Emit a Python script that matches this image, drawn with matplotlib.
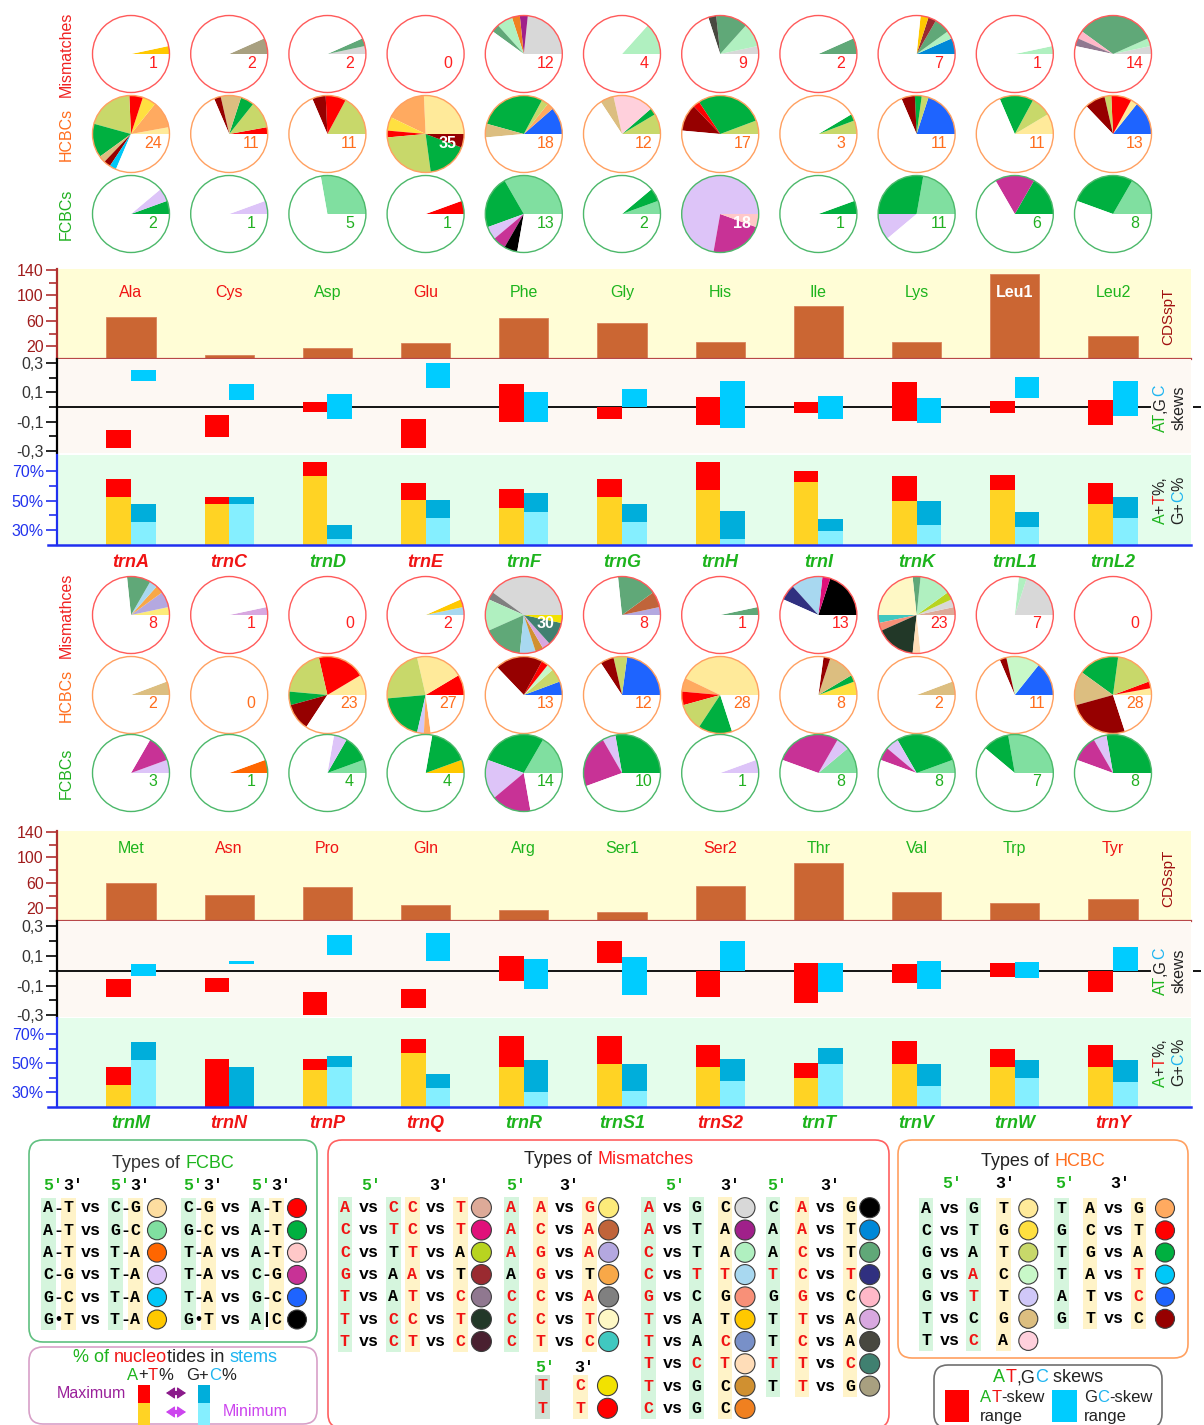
import matplotlib
matplotlib.use('Agg')
import matplotlib.pyplot as plt
import numpy as np
from matplotlib.patches import Circle, Rectangle, FancyBboxPatch

plt.rcParams['font.family'] = ['Liberation Sans', 'DejaVu Sans']

W, H = 1204, 1425
RED = '#F01414'
GREEN = '#1DB41D'
CYAN = '#1EB4F0'
ORANGE = '#FF6E1E'
DARK = '#222222'
MONO = ['Liberation Mono', 'DejaVu Sans Mono']
COL = {'r': RED, 'g': GREEN}

# ---------------- data: upper block ----------------
genes_top = ['trnA', 'trnC', 'trnD', 'trnE', 'trnF', 'trnG', 'trnH', 'trnI', 'trnK', 'trnL1', 'trnL2']
strand_top = ['r', 'r', 'g', 'r', 'g', 'g', 'g', 'g', 'g', 'g', 'g']
aa_top = ['Ala', 'Cys', 'Asp', 'Glu', 'Phe', 'Gly', 'His', 'Ile', 'Lys', 'Leu1', 'Leu2']
cds_top = [66, 6, 18, 25, 65, 57, 27, 84, 27, 134, 36]
at_skew_top = [(-0.277, -0.156), (-0.202, -0.054), (-0.034, 0.032), (-0.277, -0.080), (-0.102, 0.156),
               (-0.084, 0.0), (-0.122, 0.070), (-0.041, 0.036), (-0.093, 0.168), (-0.041, 0.041), (-0.122, 0.048)]
gc_skew_top = [(0.177, 0.252), (0.050, 0.156), (-0.082, 0.090), (0.127, 0.300), (-0.100, 0.100),
               (0.0, 0.125), (-0.145, 0.177), (-0.080, 0.077), (-0.111, 0.059), (0.059, 0.202), (-0.061, 0.177)]
at_pct_top = [(52.5, 64.5), (47.6, 52.5), (66.8, 76.5), (50.3, 62.2), (45.1, 57.8), (52.5, 64.5),
              (57.3, 76.5), (62.7, 70.4), (50.0, 66.8), (57.5, 67.7), (47.6, 62.0)]
gc_pct_top = [(35.6, 47.6), (47.6, 52.5), (24.0, 33.3), (38.1, 50.3), (42.6, 55.0), (35.6, 47.6),
              (23.9, 43.0), (29.7, 37.6), (33.3, 50.0), (32.4, 42.6), (38.1, 52.3)]

mism_top = [[('gold', 1)], [('khaki', 2)], [('silver', 1), ('seagreen', 1)], [],
            [('silver', 7), ('purple', 1), ('tangerine', 1), ('mint', 2), ('seagreen', 1)],
            [('mint', 4)], [('silver', 1), ('mint', 3), ('seagreen', 4), ('charcoal', 1)],
            [('seagreen', 2)], [('blue', 2), ('mint', 1), ('seagreen', 2), ('brown', 1), ('gold', 1)],
            [('mint', 1)], [('silver', 1), ('mint', 1), ('seagreen', 10), ('pink', 1), ('mauve', 1)]]
hcbc_top = [[('lightyellow', 1), ('orange', 4), ('yellow', 2), ('red', 2), ('olive', 7), ('green', 5),
             ('tan', 1), ('darkred', 1), ('cyan', 1)],
            [('red', 1), ('olive', 4), ('green', 2), ('tan', 3), ('darkred', 1)],
            [('olive', 6), ('red', 3), ('darkred', 2)],
            [('lightyellow', 9), ('orange', 6), ('yellow', 2), ('red', 1), ('olive', 9), ('green', 6), ('darkred', 2)],
            [('blue', 4), ('orange', 1), ('olive', 1), ('green', 10), ('tan', 2)],
            [('olive', 3), ('green', 1), ('pink', 6), ('tan', 2)],
            [('olive', 2), ('green', 10), ('red', 1), ('darkred', 4)],
            [('olive', 2), ('green', 1)],
            [('blue', 7), ('olive', 1), ('green', 1), ('darkred', 2)],
            [('lightyellow', 3), ('olive', 3), ('green', 5)],
            [('blue', 5), ('lightyellow', 1), ('red', 3), ('olive', 1), ('darkred', 3)]]
fcbc_top = [[('green', 1), ('lavender', 1)], [('lavender', 1)], [('lightgreen', 5)], [('red', 1)],
            [('lightgreen', 6), ('green', 4), ('lavender', 1), ('magenta', 1), ('black', 1)],
            [('lightgreen', 1), ('green', 1)], [('lavender', 13), ('magenta', 4), ('pink', 1)],
            [('green', 1)], [('lightgreen', 4), ('green', 5), ('lavender', 2)],
            [('green', 3), ('magenta', 3)], [('lightgreen', 3), ('green', 5)]]

# ---------------- data: lower block ----------------
genes_bot = ['trnM', 'trnN', 'trnP', 'trnQ', 'trnR', 'trnS1', 'trnS2', 'trnT', 'trnV', 'trnW', 'trnY']
strand_bot = ['g', 'r', 'r', 'r', 'g', 'g', 'r', 'g', 'g', 'g', 'r']
aa_bot = ['Met', 'Asn', 'Pro', 'Gln', 'Arg', 'Ser1', 'Ser2', 'Thr', 'Val', 'Trp', 'Tyr']
cds_bot = [59, 41, 54, 25, 17, 14, 55, 91, 45, 28, 34]
at_skew_bot = [(-0.176, -0.058), (-0.142, -0.047), (-0.300, -0.142), (-0.250, -0.124), (-0.070, 0.101),
               (0.050, 0.203), (-0.180, 0.0), (-0.220, 0.054), (-0.081, 0.043), (-0.045, 0.050), (-0.142, 0.0)]
gc_skew_bot = [(-0.038, 0.045), (0.047, 0.064), (0.104, 0.239), (0.066, 0.253), (-0.124, 0.079),
               (-0.164, 0.093), (0.0, 0.203), (-0.142, 0.050), (-0.124, 0.068), (-0.049, 0.061), (0.0, 0.160)]
at_pct_bot = [(35.3, 47.4), (20.0, 52.6), (45.1, 52.6), (57.0, 66.8), (47.3, 69.0), (49.7, 68.8),
              (47.6, 62.4), (39.6, 49.9), (49.7, 65.4), (47.3, 59.7), (47.3, 62.4)]
gc_pct_bot = [(52.4, 64.5), (20.0, 47.4), (47.4, 55.1), (32.8, 42.6), (30.3, 52.2), (30.7, 49.7),
              (38.0, 52.6), (49.7, 60.1), (34.4, 49.7), (40.0, 52.4), (36.8, 52.4)]

mism_bot = [[('lightyellow', 1), ('lavender', 2), ('orange', 1), ('skyblue', 1), ('seagreen', 3)],
            [('orchid', 1)], [], [('skyblue', 1), ('gold', 1)],
            [('silver', 12), ('gray', 1), ('mint', 4), ('seagreen', 5), ('skyblue', 2), ('ochre', 1),
             ('orchid', 1), ('teal', 3), ('yellow', 1)],
            [('lavender', 1), ('sienna', 2), ('seagreen', 5)], [('seagreen', 1)],
            [('black', 6), ('deeppink', 1), ('skyblue', 4), ('navy', 2)],
            [('rosybrown', 1), ('silver', 1), ('yellowgreen', 1), ('mint', 4), ('seagreen', 1), ('cream', 7),
             ('turquoise', 1), ('salmon', 1), ('darkgreen', 5), ('peach', 1)],
            [('silver', 6), ('mint', 1)], []]
hcbc_bot = [[('tan', 2)], [],
            [('lightyellow', 3), ('red', 7), ('olive', 7), ('green', 2), ('darkred', 4)],
            [('red', 3), ('lightyellow', 7), ('olive', 8), ('green', 7), ('lavender', 1), ('orange', 1)],
            [('blue', 2), ('olive', 2), ('mint', 1), ('red', 1), ('darkred', 7)],
            [('blue', 8), ('olive', 2), ('darkred', 2)],
            [('lightyellow', 15), ('orange', 2), ('red', 2), ('olive', 4), ('green', 5)],
            [('yellow', 2), ('green', 1), ('tan', 4), ('darkred', 1)],
            [('tan', 2)], [('blue', 5), ('mint', 5), ('darkred', 1)],
            [('lightyellow', 1), ('red', 1), ('olive', 6), ('green', 6), ('tan', 5), ('darkred', 9)]]
fcbc_bot = [[('lavender', 1), ('magenta', 2)], [('orange', 1)], [('lightgreen', 1), ('green', 2), ('lavender', 1)],
            [('gold', 1), ('green', 3)], [('lightgreen', 3), ('green', 5), ('lavender', 3), ('magenta', 3)],
            [('green', 5), ('lavender', 1), ('magenta', 4)], [('lavender', 1)],
            [('lightgreen', 2), ('lavender', 1), ('magenta', 5)],
            [('lightgreen', 1), ('green', 5), ('lavender', 1), ('magenta', 1)],
            [('lightgreen', 5), ('green', 2)], [('green', 5), ('lavender', 1), ('magenta', 2)]]

FULL_MISM, FULL_HCBC, FULL_FCBC = 30, 35, 18

# ---------------- palettes / legend entries ----------------
pal_mism = {'rosybrown': '#DDAA98', 'deeppink': '#E0107A', 'yellowgreen': '#B8D420', 'brown': '#9A2A30',
            'mauve': '#907890', 'darkgreen': '#223828', 'maroon': '#4A2030', 'lightyellow': '#FDEB7A',
            'sienna': '#C0643A', 'lavender': '#B4A8E0', 'orange': '#F8A848', 'gray': '#808080',
            'cream': '#FEF8C5', 'turquoise': '#40C8C0', 'yellow': '#F2E200', 'red': '#FF0000',
            'silver': '#D8D8D8', 'purple': '#A0208A', 'mint': '#B0F0C0', 'skyblue': '#A8D8F0',
            'salmon': '#F89078', 'gold': '#FFC800', 'periwinkle': '#7890C8', 'peach': '#FFDDB8',
            'ochre': '#D09030', 'tangerine': '#F08020', 'black': '#000000', 'blue': '#0088D8',
            'seagreen': '#60A878', 'navy': '#303080', 'pink': '#FFB8C8', 'orchid': '#D8A8E0',
            'charcoal': '#484840', 'teal': '#408070', 'khaki': '#A8A080'}
pal_hcbc = {'lightyellow': '#FFEA9A', 'yellow': '#FFE040', 'olive': '#C8D86A', 'mint': '#C8F8C8',
            'lavender': '#D0C8F8', 'tan': '#DCBE80', 'pink': '#FFD0DC', 'orange': '#FFAA60',
            'red': '#FF0000', 'green': '#00B040', 'cyan': '#00C8F8', 'blue': '#1E64FF', 'darkred': '#960000'}
pal_fcbc = {'wheat': '#FDDDA0', 'lightgreen': '#80DFA0', 'orange': '#FF6600', 'lavender': '#DDC4F8',
            'cyan': '#00C8F8', 'gold': '#FFC800', 'red': '#FF0000', 'green': '#00B040', 'pink': '#FFC8C8',
            'magenta': '#C83296', 'blue': '#1E64FF', 'black': '#000000'}

# lowercase letter = drawn in red
fc_leg_a = [('A-T', 'C-G', 'wheat'), ('A-T', 'G-C', 'lightgreen'), ('A-T', 'T-A', 'orange'),
            ('C-G', 'T-A', 'lavender'), ('G-C', 'T-A', 'cyan'), ('G•T', 'T-A', 'gold')]
fc_leg_b = [('C-G', 'A-T', 'red'), ('G-C', 'A-T', 'green'), ('T-A', 'A-T', 'pink'),
            ('T-A', 'C-G', 'magenta'), ('T-A', 'G-C', 'blue'), ('G•T', 'A|C', 'black')]
mm_leg_1 = [('a', 'c', 'c', 't', 'rosybrown'), ('c', 't', 'c', 't', 'deeppink'), ('c', 'T', 't', 'A', 'yellowgreen'),
            ('g', 'A', 'a', 'T', 'brown'), ('t', 'A', 't', 'c', 'mauve'), ('t', 'c', 'c', 't', 'darkgreen'),
            ('t', 'c', 't', 'c', 'maroon')]
mm_leg_2 = [('a', 'a', 'g', 'lightyellow'), ('a', 'c', 'a', 'sienna'), ('a', 'g', 'a', 'lavender'),
            ('A', 'g', 'T', 'orange'), ('c', 'c', 'a', 'gray'), ('c', 'c', 't', 'cream'), ('c', 't', 'c', 'turquoise')]
mm_leg_2b = [('t', 'c', 'yellow'), ('t', 't', 'red')]
mm_leg_3 = [('a', 'G', 'C', 'silver'), ('a', 'T', 'A', 'purple'), ('c', 'T', 'A', 'mint'), ('c', 't', 't', 'skyblue'),
            ('g', 'C', 'G', 'salmon'), ('t', 'A', 'T', 'gold'), ('t', 'A', 'c', 'periwinkle'), ('t', 'c', 't', 'peach'),
            ('t', 'G', 'C', 'ochre'), ('c', 'G', 'C', 'tangerine')]
mm_leg_4 = [('C', 'a', 'G', 'black'), ('A', 'a', 'T', 'blue'), ('A', 'c', 'T', 'seagreen'), ('t', 'c', 't', 'navy'),
            ('G', 'g', 'C', 'pink'), ('T', 't', 'A', 'orchid'), ('T', 'c', 'A', 'charcoal'), ('t', 't', 'c', 'teal'),
            ('T', 't', 'G', 'khaki')]
hc_leg_1 = [('A', 'G', 'T', 'lightyellow'), ('C', 'T', 'G', 'yellow'), ('G', 'A', 'T', 'olive'),
            ('G', 'a', 'C', 'mint'), ('G', 't', 'T', 'lavender'), ('T', 'C', 'G', 'tan'), ('T', 'c', 'A', 'pink')]
hc_leg_2 = [('T', 'A', 'G', 'orange'), ('G', 'C', 'T', 'red'), ('T', 'G', 'A', 'green'),
            ('T', 'A', 't', 'cyan'), ('A', 'T', 'c', 'blue'), ('G', 'T', 'C', 'darkred')]

AT_MAX, AT_MIN, GC_MAX, GC_MIN = '#FF0000', '#FFD324', '#00AEDB', '#85EFFF'
SKEW_AT, SKEW_GC = '#FF0000', '#00CCFF'

# ---------------- figure ----------------
fig = plt.figure(figsize=(W / 100, H / 100), dpi=100)
ov = fig.add_axes([0, 0, 1, 1])
ov.set_xlim(0, W)
ov.set_ylim(H, 0)
ov.axis('off')
ov.set_zorder(10)
renderer = fig.canvas.get_renderer()

X0, DX = 131, 98.2
XLIM = ((57 - X0) / DX, (1191 - X0) / DX)


def px_axes(left, top, width, height):
    return fig.add_axes([left / W, 1 - (top + height) / H, width / W, height / H])


def tw(s, **kw):
    a = ov.text(0, 0, '|' + s + '|', **kw)
    b = ov.text(0, 0, '||', **kw)
    w = a.get_window_extent(renderer).width - b.get_window_extent(renderer).width
    a.remove()
    b.remove()
    return w


def rich(x, y, parts, size, rot=0, align='center', weight='normal'):
    kw = dict(fontsize=size, weight=weight)
    widths = [tw(s, **kw) for s, _ in parts]
    pos = -sum(widths) / 2 if align == 'center' else 0
    for (s, c), w in zip(parts, widths):
        if rot == 0:
            ov.text(x + pos, y, s, color=c, ha='left', va='center', **kw)
        else:
            ov.text(x, y - pos, s, color=c, rotation=90, rotation_mode='anchor', ha='left', va='center', **kw)
        pos += w


def style(ax, spine_col, label_col):
    for k in ('top', 'right', 'bottom'):
        ax.spines[k].set_visible(False)
    ax.spines['left'].set_color(spine_col)
    ax.spines['left'].set_linewidth(1.6)
    ax.tick_params(axis='y', which='both', direction='out', color=spine_col, width=1.2,
                   labelcolor=label_col, labelsize=11.5, pad=1.5)
    ax.tick_params(axis='y', which='major', length=8)
    ax.tick_params(axis='y', which='minor', length=6)
    ax.set_xticks([])
    ax.set_xlim(XLIM)


def block(geo, genes, strand, aa, cds, at_skew, gc_skew, at_pct, gc_pct):
    x = np.arange(len(genes))
    left, right = 57, 1191
    # CDSspT
    c0, c1 = geo['cds']
    a1 = px_axes(left, c0, right - left, c1 - c0)
    a1.set_facecolor('#FFFDD6')
    a1.bar(x, cds, width=0.5, color='#CB6633', edgecolor='#D9825A', linewidth=0.6)
    style(a1, '#B03030', '#A01C1C')
    a1.set_ylim(0, 141.5)
    a1.set_yticks([20, 60, 100, 140])
    a1.set_yticks([40, 80, 120], minor=True)
    a1.spines['bottom'].set_visible(True)
    a1.spines['bottom'].set_color('#B84848')
    a1.spines['bottom'].set_linewidth(1.6)
    for i, (name, s, v) in enumerate(zip(aa, strand, cds)):
        inside = v > geo['aa_y'] + 8
        a1.text(i, geo['aa_y'], name, ha='center', va='center', fontsize=11.5,
                color='white' if inside else COL[s], weight='bold' if inside else 'normal')
    # skews
    s0, s1 = geo['skew']
    a2 = px_axes(left, s0, right - left, s1 - s0)
    a2.set_facecolor('#FDF8F3')
    at_lo, at_hi = np.array(at_skew).T
    gc_lo, gc_hi = np.array(gc_skew).T
    a2.hlines(0, XLIM[0], 10.39, color='black', lw=1.3, zorder=1)
    a2.hlines(0, 10.81, 10.9, color='black', lw=1.3, zorder=1, clip_on=False)
    a2.bar(x - 0.125, at_hi - at_lo, bottom=at_lo, width=0.25, color=SKEW_AT, zorder=2)
    a2.bar(x + 0.125, gc_hi - gc_lo, bottom=gc_lo, width=0.25, color=SKEW_GC, zorder=2)
    style(a2, 'black', '#333333')
    a2.set_ylim(*geo['skew_lim'])
    a2.set_yticks([-0.3, -0.1, 0.1, 0.3])
    a2.set_yticklabels(['-0,3', '-0,1', '0,1', '0,3'])
    a2.set_yticks([-0.2, 0.0, 0.2], minor=True)
    # A+T%, G+C%
    p0, p1 = geo['pct']
    a3 = px_axes(left, p0, right - left, p1 - p0)
    a3.set_facecolor('#E4FDEB')
    at_mn, at_mx = np.array(at_pct).T
    gc_mn, gc_mx = np.array(gc_pct).T
    a3.bar(x - 0.125, at_mn, width=0.25, color=AT_MIN)
    a3.bar(x - 0.125, at_mx - at_mn, bottom=at_mn, width=0.25, color=AT_MAX)
    a3.bar(x + 0.125, gc_mn, width=0.25, color=GC_MIN)
    a3.bar(x + 0.125, gc_mx - gc_mn, bottom=gc_mn, width=0.25, color=GC_MAX)
    style(a3, '#2030F0', '#2233EE')
    a3.set_ylim(20, 81)
    a3.set_yticks([30, 50, 70])
    a3.set_yticklabels(['30%', '50%', '70%'])
    a3.set_yticks([40, 60], minor=True)
    a3.axhline(20, xmin=-0.008, xmax=1, color='#2030F0', lw=1.8, clip_on=False)
    ylab = 20 - (geo['gene_y'] - p1) * 61 / (p1 - p0)
    for i, (g, s) in enumerate(zip(genes, strand)):
        a3.text(i, ylab, g, ha='center', va='center', fontsize=13, weight='bold', style='italic',
                color=COL[s], clip_on=False)
    # right-side titles
    ov.text(1168, (c0 + c1) / 2 + 2, 'CDSspT', rotation=90, ha='center', va='center', fontsize=11,
            color='#A01010')
    ym = (s0 + s1) / 2 + 2
    rich(1160, ym, [('AT', GREEN), (',G', DARK), ('C', CYAN)], 11.5, rot=90)
    rich(1179, ym, [('skews', DARK)], 11.5, rot=90)
    ym = (p0 + p1) / 2
    rich(1160, ym, [('A', GREEN), ('+', DARK), ('T', RED), ('%,', DARK)], 11.5, rot=90)
    rich(1179, ym, [('G+', DARK), ('C', CYAN), ('%', DARK)], 11.5, rot=90)


def pie(cx, cy, parts, full, palette, edge, num_col):
    r = 38.5
    ax = px_axes(cx - r - 2, cy - r - 2, 2 * r + 4, 2 * r + 4)
    vals = [n for _, n in parts]
    cols = [palette[k] for k, _ in parts]
    total = sum(vals)
    if full - total > 0:
        vals.append(full - total)
        cols.append('white')
    ax.pie(vals, colors=cols, startangle=0, counterclock=True, radius=1,
           wedgeprops={'linewidth': 0})
    ax.add_patch(Circle((0, 0), 1, fill=False, ec=edge, lw=1.0, zorder=5))
    lim = (r + 2) / r
    ax.set_xlim(-lim, lim)
    ax.set_ylim(-lim, lim)
    ax.axis('off')
    done = total >= full
    ax.text(22 / r, -9 / r, str(total), ha='center', va='center', fontsize=11.5, zorder=6,
            color='white' if done else num_col, weight='bold' if done else 'normal')


def pie_rows(ys, data_rows, labels):
    specs = [(FULL_MISM, pal_mism, '#FF5A5A', '#FF2020'),
             (FULL_HCBC, pal_hcbc, '#FFA060', '#FF6E1E'),
             (FULL_FCBC, pal_fcbc, '#4CB86A', '#22B022')]
    lab_cols = ['#F02020', '#FF6E1E', '#20B020']
    for y, rows, lab, (full, pal, edge, numc), lc in zip(ys, data_rows, labels, specs, lab_cols):
        for i, parts in enumerate(rows):
            pie(X0 + DX * i, y, parts, full, pal, edge, numc)
        ov.text(66, y, lab, rotation=90, ha='center', va='center', fontsize=11.5, color=lc)


pie_rows([54, 134, 214], [mism_top, hcbc_top, fcbc_top], ['Mismatches', 'HCBCs', 'FCBCs'])
pie_rows([615, 695, 773], [mism_bot, hcbc_bot, fcbc_bot], ['Mismathces', 'HCBCs', 'FCBCs'])

block(dict(cds=(269, 359), skew=(359, 453), pct=(455, 545), skew_lim=(-0.313, 0.3265), aa_y=105, gene_y=562),
      genes_top, strand_top, aa_top, cds_top, at_skew_top, gc_skew_top, at_pct_top, gc_pct_top)
block(dict(cds=(831, 921), skew=(921, 1017), pct=(1018, 1107), skew_lim=(-0.312, 0.336), aa_y=114, gene_y=1124),
      genes_bot, strand_bot, aa_bot, cds_bot, at_skew_bot, gc_skew_bot, at_pct_bot, gc_pct_bot)

# ---------------- legends ----------------
BAND_G, BAND_Y, BAND_GG = '#D5F5DD', '#FFF3C8', '#CFE0D4'


def box(x0, y0, x1, y1, ec):
    ov.add_patch(FancyBboxPatch((x0, y0), x1 - x0, y1 - y0, boxstyle='round,pad=0,rounding_size=14',
                                fc='white', ec=ec, lw=1.2))


def mono(x, y, s, color='black', ha='center'):
    ov.text(x, y, s, family=MONO, weight='bold', fontsize=12, color=color, ha=ha, va='center')


def table(rows, xs, vs_x, bands, circ_x, y0, dy, pal, r, bw=14.5):
    n = len(rows)
    for bx, bc in bands:
        ov.add_patch(Rectangle((bx - bw / 2, y0 - 10.5), bw, dy * (n - 1) + 21, fc=bc, ec='none'))
    for j, row in enumerate(rows):
        y = y0 + dy * j
        for x, l in zip(xs, row[:-1]):
            mono(x, y, l.upper(), RED if l.islower() else 'black')
        for vx in vs_x:
            mono(vx, y, 'vs')
        ov.add_patch(Circle((circ_x, y), r, fc=pal[row[-1]], ec='#3C3C3C', lw=0.8))


# FCBC
box(29, 1140, 317, 1342, '#60C080')
rich(173, 1163, [('Types of ', '#333333'), ('FCBC', GREEN)], 13)
for rows, p1, vs, p2, cx in [(fc_leg_a, 48, 91, 115, 157), (fc_leg_b, 188, 231, 256, 297)]:
    chars = [(a + b, cname) for a, b, cname in rows]
    table([tuple(s) + (c,) for s, c in chars], [p1, p1 + 10, p1 + 20, p2, p2 + 10, p2 + 20], [vs],
          [(p1, BAND_G), (p1 + 20, BAND_Y), (p2, BAND_G), (p2 + 20, BAND_Y)], cx, 1208, 22.3, pal_fcbc, 9.5, bw=15)
    for p in (p1, p2):
        mono(p - 5, 1185, "5'", GREEN, ha='left')
        mono(p + 15, 1185, "3'", ha='left')

# % of nucleotides
box(29, 1347, 317, 1424, '#D8A0C8')
rich(175, 1357, [('% of ', GREEN), ('nucleo', RED), ('tides in ', DARK), ('stems', CYAN)], 13)
rich(150, 1375, [('A', GREEN), ('+', DARK), ('T', RED), ('%', DARK)], 12)
rich(211, 1375, [('G+', DARK), ('C', CYAN), ('%', DARK)], 12)
ov.text(91, 1393, 'Maximum', ha='center', va='center', fontsize=11.5, color='#9A209A')
ov.text(255, 1412, 'Minimum', ha='center', va='center', fontsize=11.5, color='#CC44EE')
ov.add_patch(Rectangle((138, 1385), 12, 18, fc=AT_MAX, ec='none'))
ov.add_patch(Rectangle((138, 1403), 12, 22, fc=AT_MIN, ec='none'))
ov.add_patch(Rectangle((198, 1385), 12, 18, fc=GC_MAX, ec='none'))
ov.add_patch(Rectangle((198, 1403), 12, 22, fc=GC_MIN, ec='none'))
for ay, ac in [(1393, '#8B1A8B'), (1412, '#CC44EE')]:
    ov.plot([171, 181], [ay, ay], color=ac, lw=3, solid_capstyle='butt')
    ov.annotate('', xy=(186, ay), xytext=(166, ay),
                arrowprops=dict(arrowstyle='<|-|>,head_length=0.45,head_width=0.3', color=ac, lw=0.8,
                                mutation_scale=12, shrinkA=0, shrinkB=0))

# Mismatches
box(328, 1140, 889, 1428, '#FF6060')
rich(609, 1160, [('Types of ', DARK), ('Mismatches', '#FF2020')], 13)
for hx, hs, hc in [(371, "5'", GREEN), (439, "3'", 'black'), (516, "5'", GREEN), (569, "3'", 'black'),
                   (675, "5'", GREEN), (730, "3'", 'black'), (777, "5'", GREEN), (830, "3'", 'black')]:
    mono(hx, 1185, hs, hc)
mono(545, 1367, "5'", GREEN)
mono(584, 1367, "3'")
table(mm_leg_1, [345, 393.4, 412.3, 460.3], [368.6, 436],
      [(345, BAND_G), (393.4, BAND_G), (412.3, BAND_Y), (460.3, BAND_Y)], 481.4, 1207.7, 22.3, pal_mism, 10)
table(mm_leg_2, [511.5, 540.6, 589.4], [564.3],
      [(511.5, BAND_G), (540.6, BAND_Y), (589.4, BAND_Y)], 608.6, 1207.7, 22.3, pal_mism, 10)
table(mm_leg_2b, [542.5, 580.6], [], [(542.5, BAND_GG), (580.6, BAND_Y)], 607.5, 1385.7, 22.6, pal_mism, 10)
table(mm_leg_3, [648.6, 696.6, 725], [672.3],
      [(648.6, BAND_G), (696.6, BAND_G), (725, BAND_Y)], 745, 1207.7, 22.3, pal_mism, 10)
table(mm_leg_4, [773, 802, 850], [826],
      [(773, BAND_G), (802, BAND_Y), (850, BAND_Y)], 869.7, 1207.7, 22.3, pal_mism, 10)

# HCBC
box(898, 1140, 1188, 1358, '#FFA060')
rich(1043, 1162, [('Types of ', DARK), ('HCBC', ORANGE)], 13)
for hx, hs, hc in [(952, "5'", GREEN), (1005, "3'", 'black'), (1065, "5'", GREEN), (1120, "3'", 'black')]:
    mono(hx, 1184, hs, hc)
table(hc_leg_1, [926, 973.3, 1003.3], [950],
      [(926, BAND_G), (973.3, BAND_G), (1003.3, BAND_Y)], 1028.3, 1208.3, 22.1, pal_hcbc, 9.5)
table(hc_leg_2, [1061.7, 1090, 1138.3], [1114],
      [(1061.7, BAND_G), (1090, BAND_Y), (1138.3, BAND_Y)], 1165, 1208.3, 22.1, pal_hcbc, 9.5)

# AT,GC skews
box(934, 1365, 1162, 1428, '#707070')
rich(1048, 1378, [('A', GREEN), ('T', RED), (',G', DARK), ('C', CYAN), (' skews', DARK)], 13)
ov.add_patch(Rectangle((945, 1390), 24, 32, fc=SKEW_AT, ec='none'))
ov.add_patch(Rectangle((1052, 1390), 25, 32, fc=SKEW_GC, ec='none'))
rich(980, 1397, [('A', GREEN), ('T', RED), ('-skew', DARK)], 12, align='left')
ov.text(980, 1416, 'range', ha='left', va='center', fontsize=12, color=DARK)
rich(1084, 1397, [('G', DARK), ('C', CYAN), ('-skew', DARK)], 12, align='left')
ov.text(1084, 1416, 'range', ha='left', va='center', fontsize=12, color=DARK)

fig.savefig('out.png', dpi=100)
